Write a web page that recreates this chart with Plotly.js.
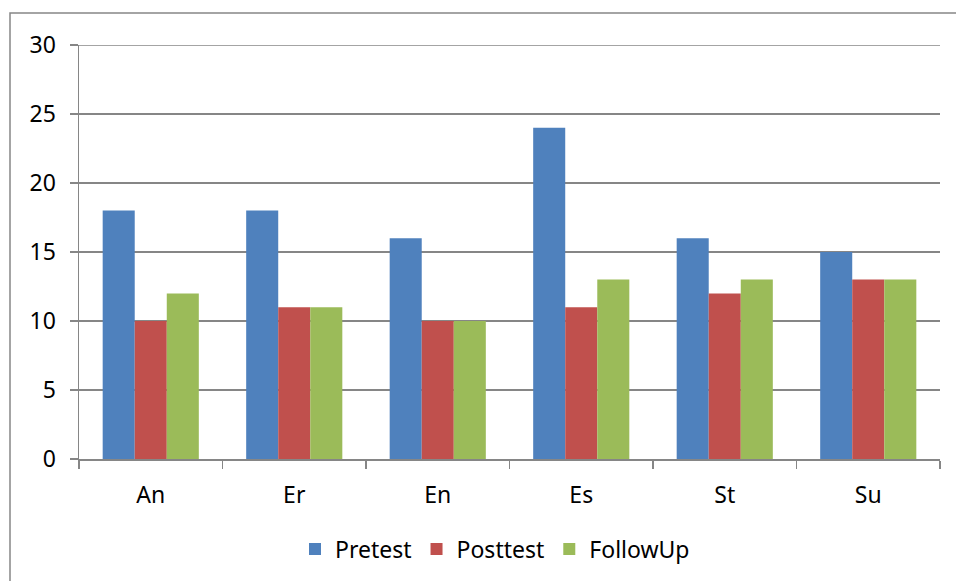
<!DOCTYPE html>
<html>
<head>
<meta charset="utf-8">
<script src="https://cdn.plot.ly/plotly-3.0.1.min.js"></script>
<style>html,body{margin:0;padding:0;background:#fff;}#chart{width:956px;height:581px;}</style>
</head>
<body>
<div id="chart"></div>
<script>
const categories = ["An", "Er", "En", "Es", "St", "Su"];
const pretest = [18, 18, 16, 24, 16, 15];
const posttest = [10, 11, 10, 11, 12, 13];
const followUp = [12, 11, 10, 13, 13, 13];
const yTicks = [0, 5, 10, 15, 20, 25, 30];

const W = 956, H = 581;
const L = 79, R = 940, T = 45, B = 460;
const pw = R - L, ph = B - T;
const px = v => (v - L) / pw;
const py = v => (B - v) / ph;
const grid = '#868686';
const fnt = {family: 'Noto Sans, sans-serif', size: 23, color: '#000'};

const traces = [
  {name: 'Pretest', y: pretest, color: '#4F81BD'},
  {name: 'Posttest', y: posttest, color: '#C0504D'},
  {name: 'FollowUp', y: followUp, color: '#9BBB59'}
].map(s => ({
  type: 'bar', x: categories, y: s.y, name: s.name,
  marker: {color: s.color, line: {width: 0}}
}));

const layout = {
  width: W, height: H,
  margin: {l: L, r: W - R, t: T, b: H - B, pad: 0},
  paper_bgcolor: '#fff', plot_bgcolor: '#fff',
  barmode: 'group', bargap: 0.33, bargroupgap: 0,
  font: fnt,
  showlegend: true,
  legend: {orientation: 'h', x: px(495), xanchor: 'center', y: py(549), yanchor: 'middle',
           font: {family: 'Noto Sans, sans-serif', size: 23, color: '#000'}, itemwidth: 30, tracegroupgap: 0},
  xaxis: {
    type: 'category', tickson: 'boundaries', ticks: 'outside', ticklen: 8, tickwidth: 1.5,
    tickcolor: grid, showline: true, linecolor: grid, linewidth: 1.5, showgrid: false,
    ticklabelstandoff: 15, tickfont: fnt, fixedrange: true
  },
  yaxis: {
    range: [0, 30], tickvals: yTicks, ticktext: yTicks.map(String),
    ticks: 'outside', ticklen: 8, tickwidth: 1.5, tickcolor: grid,
    showline: true, linecolor: grid, linewidth: 1.5,
    showgrid: true, gridcolor: grid, gridwidth: 1.5, zeroline: false,
    ticklabelstandoff: 9, tickfont: fnt, fixedrange: true
  },
  shapes: [{
    type: 'rect', xref: 'paper', yref: 'paper', layer: 'below',
    x0: px(10), x1: px(W + 20), y0: py(H + 20), y1: py(13),
    line: {color: grid, width: 1.5}, fillcolor: 'rgba(0,0,0,0)'
  }, {
    type: 'line', xref: 'paper', yref: 'y', layer: 'above',
    x0: 0, x1: 1, y0: 30, y1: 30,
    line: {color: grid, width: 1.5}
  }]
};

Plotly.newPlot('chart', traces, layout, {displayModeBar: false, staticPlot: true});
</script>
</body>
</html>
